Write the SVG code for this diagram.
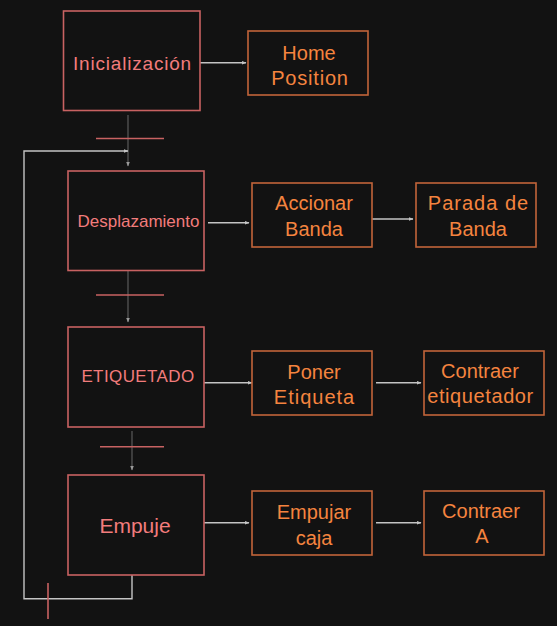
<svg xmlns="http://www.w3.org/2000/svg" width="557" height="626" viewBox="0 0 557 626">
<defs>
<style>
.main rect{fill:none;stroke:#c86262;stroke-width:1.6}
.main text{fill:#f27c7c;font-family:"Liberation Sans",Arial,sans-serif;text-anchor:middle;dominant-baseline:central}
.sub rect{fill:none;stroke:#c2643a;stroke-width:1.6}
.sub text{fill:#f5843f;font-family:"Liberation Sans",Arial,sans-serif;font-size:20px;text-anchor:middle;dominant-baseline:central}
.arr{fill:none;stroke:#c4c4c4;stroke-width:1.4;marker-end:url(#ah)}
.vdark{fill:none;stroke:#505050;stroke-width:1.4;marker-end:url(#ahg)}
.bar{stroke:#c86262;stroke-width:1.6;fill:none}
</style>
<marker id="ah" viewBox="0 0 10 10" refX="9" refY="5" markerWidth="5" markerHeight="5" orient="auto" markerUnits="userSpaceOnUse">
<path d="M0,1 L10,5 L0,9 z" fill="#c4c4c4"/>
</marker>
<marker id="ahg" viewBox="0 0 10 10" refX="9" refY="5" markerWidth="5" markerHeight="5" orient="auto" markerUnits="userSpaceOnUse">
<path d="M0,1 L10,5 L0,9 z" fill="#9a9a9a"/>
</marker>
</defs>
<rect width="557" height="626" fill="#121212"/>

<g id="connectors">
<path class="arr" d="M200,62.7 H246"/>
<path class="arr" d="M208,222.7 H249"/>
<path class="arr" d="M372,219 H413"/>
<path class="arr" d="M204,382.7 H252"/>
<path class="arr" d="M376,382.7 H421"/>
<path class="arr" d="M204,522.7 H249"/>
<path class="arr" d="M376,522.7 H421"/>
<path class="vdark" d="M128,115 V166"/>
<path class="vdark" d="M128,271 V322"/>
<path class="vdark" d="M132,431 V470"/>
<path class="arr" d="M132,575 V598.7 H24 V151 H128"/>
<path class="bar" d="M96,138.5 H164"/>
<path class="bar" d="M96,295 H164"/>
<path class="bar" d="M100,446.7 H164"/>
<path class="bar" d="M48,583 V619"/>
</g>

<g id="inicializacion" class="main">
<rect x="63.5" y="11" width="136.5" height="99.5"/>
<text x="132.5" y="63" font-size="19" letter-spacing="0.8">Inicialización</text>
</g>
<g id="home-position" class="sub">
<rect x="248" y="31" width="120" height="64"/>
<text x="309" y="52.5">Home</text>
<text x="310" y="77.5" letter-spacing="0.8">Position</text>
</g>

<g id="desplazamiento" class="main">
<rect x="68" y="171" width="136" height="99.5"/>
<text x="138.5" y="221" font-size="17">Desplazamiento</text>
</g>
<g id="accionar-banda" class="sub">
<rect x="252" y="183" width="120" height="64"/>
<text x="314" y="203.3">Accionar</text>
<text x="314" y="229.3">Banda</text>
</g>
<g id="parada-de-banda" class="sub">
<rect x="416" y="183" width="120" height="64"/>
<text x="478.5" y="203" letter-spacing="1">Parada de</text>
<text x="478" y="229">Banda</text>
</g>

<g id="etiquetado" class="main">
<rect x="68" y="327" width="136" height="100"/>
<text x="138" y="376" font-size="17" letter-spacing="0.4">ETIQUETADO</text>
</g>
<g id="poner-etiqueta" class="sub">
<rect x="252" y="351" width="120" height="64"/>
<text x="314" y="371.7">Poner</text>
<text x="314.5" y="397.3" letter-spacing="1">Etiqueta</text>
</g>
<g id="contraer-etiquetador" class="sub">
<rect x="424" y="351" width="120" height="64"/>
<text x="480" y="371">Contraer</text>
<text x="480.5" y="396" letter-spacing="0.6">etiquetador</text>
</g>

<g id="empuje" class="main">
<rect x="68" y="475" width="136" height="100"/>
<text x="135" y="525" font-size="21">Empuje</text>
</g>
<g id="empujar-caja" class="sub">
<rect x="252" y="491" width="120" height="64"/>
<text x="314" y="511.7">Empujar</text>
<text x="314" y="538.3">caja</text>
</g>
<g id="contraer-a" class="sub">
<rect x="424" y="491" width="120" height="64"/>
<text x="481" y="510.7">Contraer</text>
<text x="482" y="536">A</text>
</g>
</svg>
